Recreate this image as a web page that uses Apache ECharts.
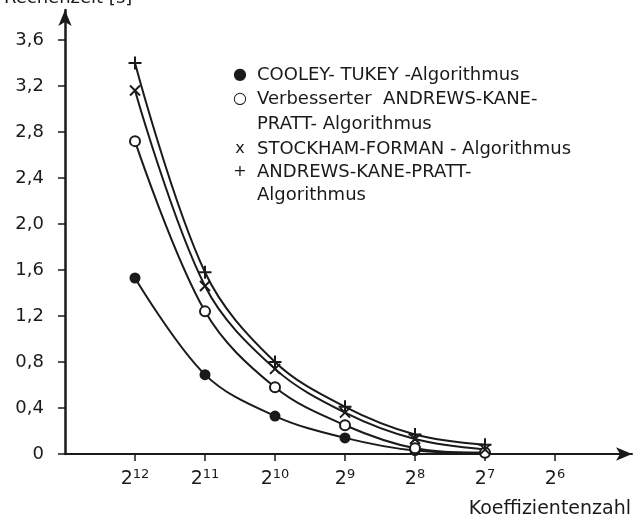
<!DOCTYPE html>
<html>
<head>
<meta charset="utf-8">
<script src="https://cdn.jsdelivr.net/npm/echarts@6/dist/echarts.min.js"></script>
<style>
  html, body { margin: 0; padding: 0; background: #fff; }
  #chart { width: 637px; height: 523px; }
</style>
</head>
<body>
<div id="chart"></div>
<script>
// Koeffizientenzahl als Zweierpotenz (Exponent)
var exponents = [12, 11, 10, 9, 8, 7];
var xTicks = [12, 11, 10, 9, 8, 7, 6];
var yTicks = [0, 0.4, 0.8, 1.2, 1.6, 2.0, 2.4, 2.8, 3.2, 3.6];

// Rechenzeit [s]
var cooleyTukey = [1.53, 0.69, 0.33, 0.14, 0.03, 0.01];
var verbAkp = [2.72, 1.24, 0.58, 0.25, 0.05, 0.01];
var stockham = [3.16, 1.46, 0.74, 0.36, 0.13, 0.04];
var akp = [3.40, 1.58, 0.80, 0.41, 0.17, 0.08];

var legendLines = [
  ["\u25CF", "COOLEY- TUKEY -Algorithmus"],
  ["\u25CB", "Verbesserter  ANDREWS-KANE-"],
  ["", "PRATT- Algorithmus"],
  ["x", "STOCKHAM-FORMAN - Algorithmus"],
  ["+", "ANDREWS-KANE-PRATT-"],
  ["", "Algorithmus"]
];

var ink = "#1a1a1a";
var font = "DejaVu Sans";

function pairs(vals) {
  return vals.map(function (v, i) { return [exponents[i], v]; });
}

function line(name, vals, symbol, size, fill) {
  return {
    name: name,
    type: "line",
    data: pairs(vals),
    smooth: 0.35,
    symbol: symbol,
    symbolSize: size,
    showAllSymbol: true,
    lineStyle: { color: ink, width: 2 },
    itemStyle: { color: fill, borderColor: ink, borderWidth: 2 },
    z: 3
  };
}

var graphics = [
  {
    type: "text", left: 4, top: -11,
    style: { text: "Rechenzeit [s]", font: "18px " + font, fill: ink }
  },
  {
    type: "text", right: 6, top: 500,
    style: { text: "Koeffizientenzahl", font: "19px " + font, fill: ink }
  }
];
var rowY = [75, 99, 124, 149, 172, 195];
legendLines.forEach(function (row, i) {
  if (row[0]) {
    graphics.push({
      type: "text", x: 240, y: rowY[i],
      style: { text: row[0], font: "16px " + font, fill: ink, align: "center", verticalAlign: "middle" }
    });
  }
  graphics.push({
    type: "text", x: 257, y: rowY[i],
    style: { text: row[1], font: "18px " + font, fill: ink, verticalAlign: "middle" }
  });
});

var chart = echarts.init(document.getElementById("chart"));
chart.setOption({
  animation: false,
  backgroundColor: "#fff",
  textStyle: { fontFamily: font, color: ink },
  grid: { left: 65, right: 5, top: 10, bottom: 69, containLabel: false },
  xAxis: {
    type: "value",
    inverse: true,
    min: 4.9,
    max: 13,
    splitLine: { show: false },
    axisLine: { lineStyle: { color: ink, width: 2 }, symbol: ["none", "arrow"], symbolSize: [10, 16] },
    axisTick: { customValues: xTicks, length: 7, lineStyle: { color: ink, width: 1.5 } },
    axisLabel: {
      customValues: xTicks,
      margin: 14,
      color: ink,
      formatter: function (v) { return "{b|2}{s|" + v + "}"; },
      rich: {
        b: { fontSize: 19, fontFamily: font, color: ink },
        s: { fontSize: 13, fontFamily: font, color: ink, padding: [0, 0, 10, 0] }
      }
    }
  },
  yAxis: {
    type: "value",
    min: 0,
    max: 3.86,
    splitLine: { show: false },
    axisLine: { lineStyle: { color: ink, width: 2.5 }, symbol: ["none", "arrow"], symbolSize: [10, 16] },
    axisTick: { customValues: yTicks, length: 7, lineStyle: { color: ink, width: 1.5 } },
    axisLabel: {
      customValues: yTicks,
      margin: 21,
      fontSize: 18,
      color: ink,
      formatter: function (v) { return v === 0 ? "0" : v.toFixed(1).replace(".", ","); }
    }
  },
  graphic: graphics,
  series: [
    line("COOLEY-TUKEY-Algorithmus", cooleyTukey, "circle", 9, ink),
    line("Verbesserter ANDREWS-KANE-PRATT-Algorithmus", verbAkp, "circle", 10, "#fff"),
    line("STOCKHAM-FORMAN-Algorithmus", stockham, "path://M0,0L10,10M10,0L0,10", 10, ink),
    line("ANDREWS-KANE-PRATT-Algorithmus", akp, "path://M5,0L5,10M0,5L10,5", 13, ink)
  ]
});
</script>
</body>
</html>
